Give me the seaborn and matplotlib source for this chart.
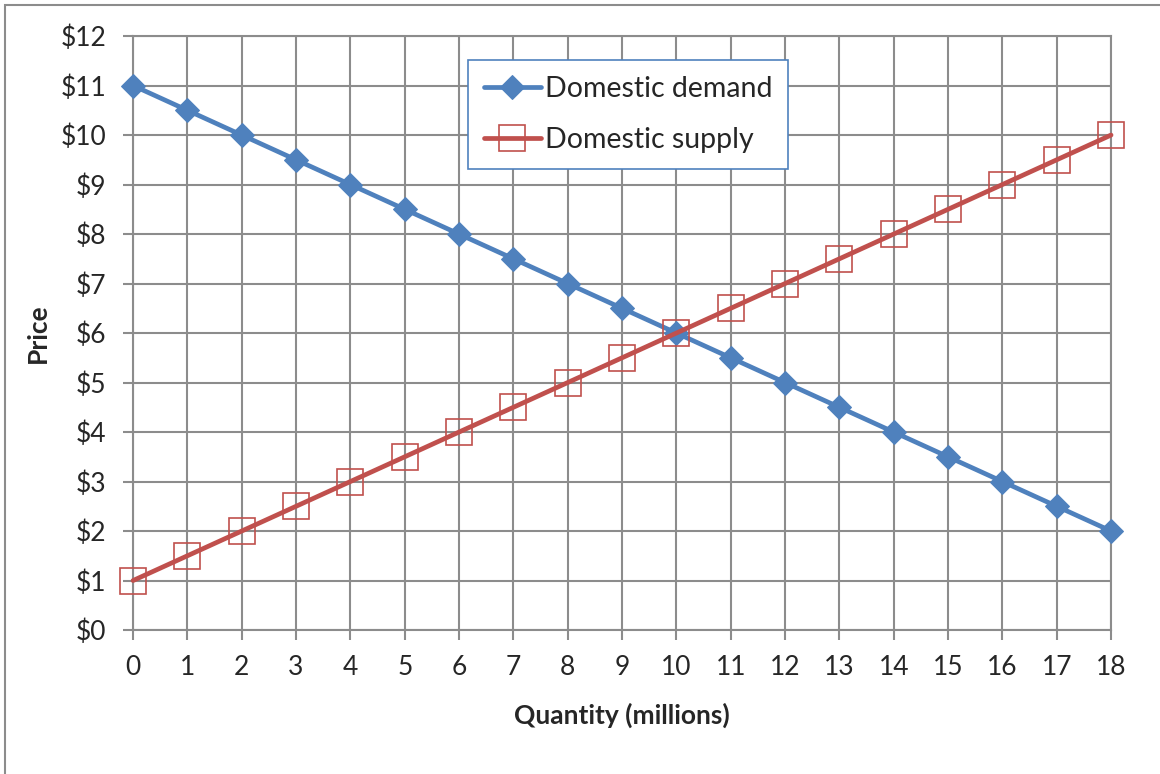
import pandas as pd
import numpy as np
import matplotlib
matplotlib.use("Agg")
import matplotlib.pyplot as plt
import seaborn as sns
from matplotlib.patches import Rectangle

# Data
quantity = list(range(0, 19))
demand_price = [11, 10.5, 10, 9.5, 9, 8.5, 8, 7.5, 7, 6.5, 6, 5.5, 5, 4.5, 4, 3.5, 3, 2.5, 2]
supply_price = [1, 1.5, 2, 2.5, 3, 3.5, 4, 4.5, 5, 5.5, 6, 6.5, 7, 7.5, 8, 8.5, 9, 9.5, 10]
y_ticks = list(range(0, 13))
y_labels = [f"${v}" for v in y_ticks]

demand_df = pd.DataFrame({"Quantity": quantity, "Price": demand_price})
supply_df = pd.DataFrame({"Quantity": quantity, "Price": supply_price})

sns.set_style("white")
plt.rcParams['font.family'] = ['Lato', 'DejaVu Sans']

blue = "#4F81BD"
red = "#C0504D"
grid_gray = "#8C8C8C"

fig = plt.figure(figsize=(11.6, 7.74), dpi=100)
ax = fig.add_axes([0.1147, 0.186, 0.8431, 0.7674])

sns.lineplot(data=demand_df, x="Quantity", y="Price", ax=ax, color=blue, linewidth=3.4,
             marker="D", markersize=12, markeredgecolor=blue, markerfacecolor=blue,
             label="Domestic demand", zorder=3, clip_on=False)
sns.lineplot(data=supply_df, x="Quantity", y="Price", ax=ax, color=red, linewidth=3.4,
             marker="s", markersize=19, markeredgecolor=red, markerfacecolor="none",
             markeredgewidth=1.2, label="Domestic supply", zorder=3, clip_on=False)

ax.set_xlim(0, 18)
ax.set_ylim(0, 12)
ax.set_xticks(quantity)
ax.set_xticklabels([str(q) for q in quantity])
ax.set_yticks(y_ticks)
ax.set_yticklabels(y_labels)
ax.grid(True, color=grid_gray, linewidth=1.5)
ax.set_axisbelow(True)
for s in ax.spines.values():
    s.set_color(grid_gray)
    s.set_linewidth(1.5)
ax.tick_params(axis="both", which="both", length=7, width=1.5, color=grid_gray,
               labelsize=19, direction="out")
ax.tick_params(axis="x", pad=11)
ax.tick_params(axis="y", pad=12)
ax.xaxis.set_ticks_position("bottom")
ax.yaxis.set_ticks_position("left")

ax.set_xlabel("Quantity (millions)", fontsize=19, fontweight="bold", labelpad=16)
ax.set_ylabel("Price", fontsize=19, fontweight="bold", labelpad=8)

leg = ax.legend(loc="upper left", bbox_to_anchor=(0.3425, 0.9596), fontsize=20.5,
                frameon=True, fancybox=False, handlelength=2.0, handletextpad=0.15,
                borderpad=0.55, labelspacing=0.9, borderaxespad=0)
leg.get_frame().set_edgecolor(blue)
leg.get_frame().set_linewidth(1.2)
leg.get_frame().set_alpha(1)

# outer chart border
fig.patches.append(Rectangle((5 / 1160, -0.01), 1.02, 1 - 5 / 774 + 0.01,
                             transform=fig.transFigure, fill=False,
                             edgecolor="#8C8C8C", linewidth=1.5))

fig.savefig("out.png", dpi=100)
